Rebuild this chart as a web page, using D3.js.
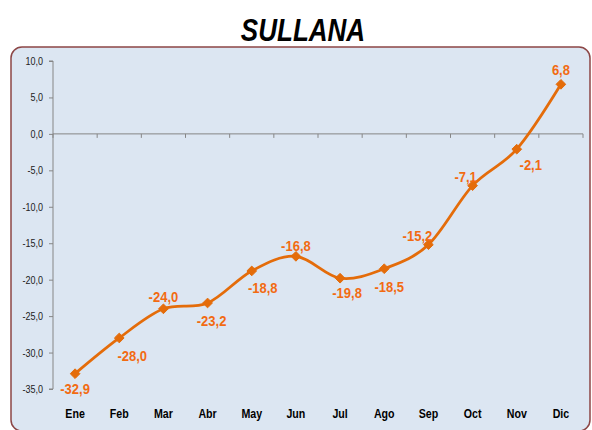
<!DOCTYPE html>
<html><head><meta charset="utf-8">
<script src="https://cdn.jsdelivr.net/npm/d3@7"></script>
<style>
html,body{margin:0;padding:0;background:#fff;}
svg{display:block;}
</style></head>
<body>
<svg id="c" width="592" height="430"></svg>
<script>
const months = ["Ene","Feb","Mar","Abr","May","Jun","Jul","Ago","Sep","Oct","Nov","Dic"];
const values = [-32.9,-28.0,-24.0,-23.2,-18.8,-16.8,-19.8,-18.5,-15.2,-7.1,-2.1,6.8];
const yTicks = [10,5,0,-5,-10,-15,-20,-25,-30,-35];
const title = "SULLANA";
// label placement (dx, dy of label centre relative to its point)
const labelOffsets = [[0,15],[13,17],[0,-12],[4,17],[11,16],[0,-11],[7,14],[5,18],[-11,-9],[-7,-9],[14,15],[0,-15]];

const fmt = v => d3.format(".1f")(v).replace(".", ",").replace("−","-");
const font = "'Liberation Sans',Arial,sans-serif";
const SX = 0.82; // horizontal condensing to mimic a narrow face

const svg = d3.select("#c");
svg.append("rect").attr("x",11).attr("y",47).attr("width",579).attr("height",384)
  .attr("rx",11).attr("fill","#DCE6F2").attr("stroke","#8C4646").attr("stroke-width",1.5);

svg.append("text").attr("transform",`translate(303,41) scale(0.84,1)`).attr("text-anchor","middle")
  .attr("font-family",font).attr("font-weight","bold").attr("font-style","italic")
  .attr("font-size",31).attr("fill","#000").text(title);

const x = d3.scaleBand().domain(months).range([53,583]).padding(0);
const y = d3.scaleLinear().domain([-35,10]).range([389,61]);

// y axis
const yAx = svg.append("g").attr("transform","translate(53,0)")
  .call(d3.axisLeft(y).tickValues(yTicks).tickSize(4).tickPadding(6).tickFormat(fmt));
yAx.select(".domain").attr("stroke","#868686").attr("d",`M-4,${y(10)}H0V${y(-35)}H-4`);
yAx.selectAll(".tick line").attr("stroke","#868686");
yAx.selectAll(".tick text").attr("x",0).attr("transform",`translate(-10,0) scale(${SX},1)`)
  .attr("font-family",font).attr("font-size",11).attr("fill","#222");

// x axis on zero line
const xAx = svg.append("g").attr("transform",`translate(0,${y(0)})`);
xAx.append("line").attr("x1",53).attr("x2",583).attr("stroke","#868686");
xAx.selectAll("line.t").data(months.map((m)=>x(m)).concat([x(months[months.length-1])+x.bandwidth()]))
  .enter().append("line").attr("class","t").attr("x1",d=>d).attr("x2",d=>d).attr("y1",0).attr("y2",4)
  .attr("stroke","#868686");

// month labels at bottom
svg.selectAll("text.m").data(months).enter().append("text").attr("class","m")
  .attr("transform",d=>`translate(${x(d)+x.bandwidth()/2},418) scale(${SX},1)`).attr("text-anchor","middle")
  .attr("font-family",font).attr("font-weight","bold").attr("font-size",13).attr("fill","#000")
  .text(d=>d);

const pts = months.map((m,i)=>[x(m)+x.bandwidth()/2, y(values[i])]);
svg.append("path").attr("d", d3.line().curve(d3.curveCardinal.tension(0))(pts))
  .attr("fill","none").attr("stroke","#E46C0A").attr("stroke-width",2.8);

svg.selectAll("path.mk").data(pts).enter().append("path").attr("class","mk")
  .attr("transform",d=>`translate(${d[0]},${d[1]})`)
  .attr("d", d3.symbol().type(d3.symbolDiamond2).size(60))
  .attr("fill","#E46C0A").attr("stroke","#E46C0A").attr("stroke-width",1);

svg.selectAll("text.lbl").data(values).enter().append("text").attr("class","lbl")
  .attr("transform",(d,i)=>`translate(${pts[i][0]+labelOffsets[i][0]},${pts[i][1]+labelOffsets[i][1]}) scale(0.84,1)`)
  .attr("dy","0.36em").attr("text-anchor","middle")
  .attr("font-family",font).attr("font-weight","bold").attr("font-size",15.5).attr("fill","#F26B12")
  .text(d=>fmt(d));
</script>
</body></html>
